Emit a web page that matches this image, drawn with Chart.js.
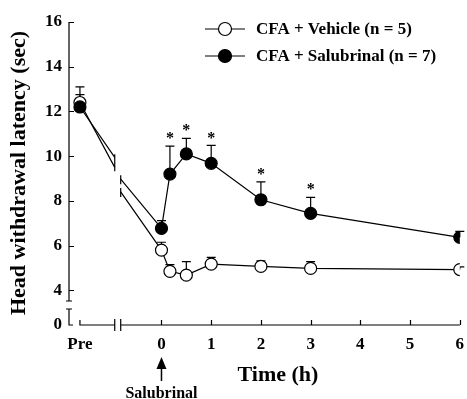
<!DOCTYPE html>
<html>
<head>
<meta charset="utf-8">
<script src="https://cdn.jsdelivr.net/npm/chart.js@4.4.1/dist/chart.umd.min.js"></script>
<style>
html, body { margin: 0; padding: 0; background: #fff; }
canvas { display: block; }
</style>
</head>
<body>
<canvas id="latencyChart" width="467" height="399"></canvas>
<script>
// time in hours; "Pre" sits left of 0, the null marks the gap in the broken time axis
var times       = [-1.64, -0.94, -0.88, -0.82, 0, 0.17, 0.5, 1, 2, 3, 6];
var vehicleMean = [12.4, 9.5, null, 8.4, 5.8, 4.85, 4.68, 5.17, 5.07, 4.98, 4.93];
var vehicleSem  = [0.35, null, null, null, 0.35, 0.3, 0.6, 0.3, 0.25, 0.3, 0.12];
var salubMean   = [12.2, 9.95, null, 8.97, 6.77, 9.2, 10.1, 9.68, 8.05, 7.44, 6.37];
var salubSem    = [0.9, null, null, null, 0.35, 1.25, 0.7, 0.8, 0.8, 0.72, 0.27];
var salubStar   = [false, false, false, false, false, true, true, true, true, true, false];

var xTicks      = [-1.64, 0, 1, 2, 3, 4, 5, 6];
var xTickLabels = ['Pre', '0', '1', '2', '3', '4', '5', '6'];
var yTicks      = [2.45, 4, 6, 8, 10, 12, 14, 16];
var yTickLabels = ['0', '4', '6', '8', '10', '12', '14', '16'];

var seriesLabels = ['CFA + Vehicle (n = 5)', 'CFA + Salubrinal (n = 7)'];

var FONT = 'Liberation Serif, Times New Roman, serif';

function toPoints(means) {
    return times.map(function (t, i) { return { x: t, y: means[i] }; });
}

function radiusFrom(sem) {
    return function (ctx) { return sem[ctx.dataIndex] == null ? 0 : 6; };
}

// error bars (upward only) + stars, under the markers
var errorBars = {
    id: 'errorBars',
    beforeDatasetsDraw: function (chart) {
        var c = chart.ctx, xs = chart.scales.x, ys = chart.scales.y;
        var groups = [[vehicleMean, vehicleSem, null], [salubMean, salubSem, salubStar]];
        c.save();
        c.strokeStyle = '#000';
        c.lineWidth = 1.2;
        groups.forEach(function (g) {
            g[0].forEach(function (m, i) {
                if (m == null || g[1][i] == null) return;
                var px = xs.getPixelForValue(times[i]);
                var py = ys.getPixelForValue(m);
                var top = ys.getPixelForValue(m + g[1][i]);
                c.beginPath();
                c.moveTo(px, py); c.lineTo(px, top);
                c.moveTo(px - 4.5, top); c.lineTo(px + 4.5, top);
                c.stroke();
                if (g[2] && g[2][i]) {
                    c.fillStyle = '#000';
                    c.font = 'bold 16px ' + FONT;
                    c.textAlign = 'center';
                    c.textBaseline = 'middle';
                    c.fillText('*', px, top - 7);
                }
            });
        });
        c.restore();
    }
};

// broken axes, break marks on the lines, legend, titles, arrow
var decorations = {
    id: 'decorations',
    afterDraw: function (chart) {
        var c = chart.ctx, xs = chart.scales.x, ys = chart.scales.y, a = chart.chartArea;
        var ax = a.left, ay = a.bottom;
        c.save();
        c.strokeStyle = '#000';
        c.fillStyle = '#000';
        c.lineWidth = 1.2;

        // y axis with break
        var yTop = ys.getPixelForValue(16);
        c.beginPath();
        c.moveTo(ax, yTop); c.lineTo(ax, ay - 24);
        c.moveTo(ax - 3, ay - 24); c.lineTo(ax + 3, ay - 24);
        c.moveTo(ax - 3, ay - 16); c.lineTo(ax + 3, ay - 16);
        c.moveTo(ax, ay - 16); c.lineTo(ax, ay); c.lineTo(ax + 4, ay);
        yTicks.slice(1).forEach(function (v) {
            var p = Math.round(ys.getPixelForValue(v)) + 0.5;
            c.moveTo(ax, p); c.lineTo(ax + 5, p);
        });
        c.stroke();

        // x axis with break
        var xPre = xs.getPixelForValue(times[0]);
        var xb1 = xs.getPixelForValue(times[1]);
        var xb2 = xs.getPixelForValue(times[3]);
        var xEnd = xs.getPixelForValue(6);
        c.beginPath();
        c.moveTo(xPre, ay - 5); c.lineTo(xPre, ay); c.lineTo(xb1, ay);
        c.moveTo(xb1, ay - 6); c.lineTo(xb1, ay + 6);
        c.moveTo(xb2, ay - 6); c.lineTo(xb2, ay + 6);
        c.moveTo(xb2, ay); c.lineTo(xEnd, ay);
        xTicks.slice(1).forEach(function (v) {
            var p = Math.round(xs.getPixelForValue(v)) + 0.5;
            c.moveTo(p, ay); c.lineTo(p, ay - 5);
        });
        c.stroke();

        // break marks where the lines are cut
        var l1 = ys.getPixelForValue(vehicleMean[1]), l2 = ys.getPixelForValue(salubMean[1]);
        var r1 = ys.getPixelForValue(vehicleMean[3]), r2 = ys.getPixelForValue(salubMean[3]);
        c.beginPath();
        c.moveTo(xb1, Math.min(l1, l2) - 3); c.lineTo(xb1, Math.max(l1, l2) + 4);
        c.moveTo(xb2, r1 - 4); c.lineTo(xb2, r1 + 5);
        c.moveTo(xb2, r2 - 4); c.lineTo(xb2, r2 + 5);
        c.stroke();

        // legend
        var rows = [[29, '#fff'], [56, '#000']];
        c.font = 'bold 17px ' + FONT;
        c.textAlign = 'left';
        c.textBaseline = 'middle';
        rows.forEach(function (r, i) {
            c.beginPath();
            c.moveTo(205, r[0]); c.lineTo(245, r[0]);
            c.stroke();
            c.beginPath();
            c.arc(225, r[0], 6.5, 0, Math.PI * 2);
            c.fillStyle = r[1];
            c.fill();
            c.stroke();
            c.fillStyle = '#000';
            c.fillText(seriesLabels[i], 256, r[0] + 1);
        });

        // axis titles
        c.font = 'bold 22px ' + FONT;
        c.textAlign = 'center';
        c.fillText('Time (h)', 278, 375);
        c.save();
        c.translate(19, 173);
        c.rotate(-Math.PI / 2);
        c.fillText('Head withdrawal latency (sec)', 0, 0);
        c.restore();

        // injection arrow
        var x0 = xs.getPixelForValue(0);
        c.lineWidth = 1.5;
        c.beginPath();
        c.moveTo(x0, 381); c.lineTo(x0, 366);
        c.stroke();
        c.beginPath();
        c.moveTo(x0, 357); c.lineTo(x0 - 5, 369); c.lineTo(x0 + 5, 369);
        c.closePath();
        c.fill();
        c.font = 'bold 16px ' + FONT;
        c.fillText('Salubrinal', x0, 394);
        c.restore();
    }
};

var ctx = document.getElementById('latencyChart').getContext('2d');

var latencyChart = new Chart(ctx, {
    type: 'line',
    data: {
        datasets: [{
            label: seriesLabels[1],
            data: toPoints(salubMean),
            borderColor: '#000',
            borderWidth: 1.2,
            pointRadius: radiusFrom(salubSem),
            pointBackgroundColor: '#000',
            pointBorderColor: '#000',
            pointBorderWidth: 1.2,
            spanGaps: false,
            order: 0
        }, {
            label: seriesLabels[0],
            data: toPoints(vehicleMean),
            borderColor: '#000',
            borderWidth: 1.2,
            pointRadius: radiusFrom(vehicleSem),
            pointBackgroundColor: '#fff',
            pointBorderColor: '#000',
            pointBorderWidth: 1.2,
            spanGaps: false,
            order: 1
        }]
    },
    options: {
        responsive: false,
        animation: false,
        layout: { padding: { left: 0, top: 22, right: 5, bottom: 0 } },
        plugins: {
            legend: { display: false },
            tooltip: { enabled: false }
        },
        scales: {
            x: {
                type: 'linear',
                min: -1.86,
                max: 6,
                grid: { display: false, drawTicks: false },
                border: { display: false },
                afterBuildTicks: function (scale) {
                    scale.ticks = xTicks.map(function (v) { return { value: v }; });
                },
                afterFit: function (scale) {
                    scale.height = 74;
                    scale.paddingLeft = 0;
                    scale.paddingRight = 0;
                },
                ticks: {
                    autoSkip: false,
                    maxRotation: 0,
                    padding: 9,
                    color: '#000',
                    font: { family: FONT, weight: 'bold', size: 17 },
                    callback: function (value, index) { return xTickLabels[index]; }
                }
            },
            y: {
                type: 'linear',
                min: 2.45,
                max: 16,
                grid: { display: false, drawTicks: false },
                border: { display: false },
                afterBuildTicks: function (scale) {
                    scale.ticks = yTicks.map(function (v) { return { value: v }; });
                },
                afterFit: function (scale) {
                    scale.width = 69;
                },
                ticks: {
                    padding: 7,
                    color: '#000',
                    font: { family: FONT, weight: 'bold', size: 17 },
                    callback: function (value, index) { return yTickLabels[index]; }
                }
            }
        }
    },
    plugins: [errorBars, decorations]
});
</script>
</body>
</html>
